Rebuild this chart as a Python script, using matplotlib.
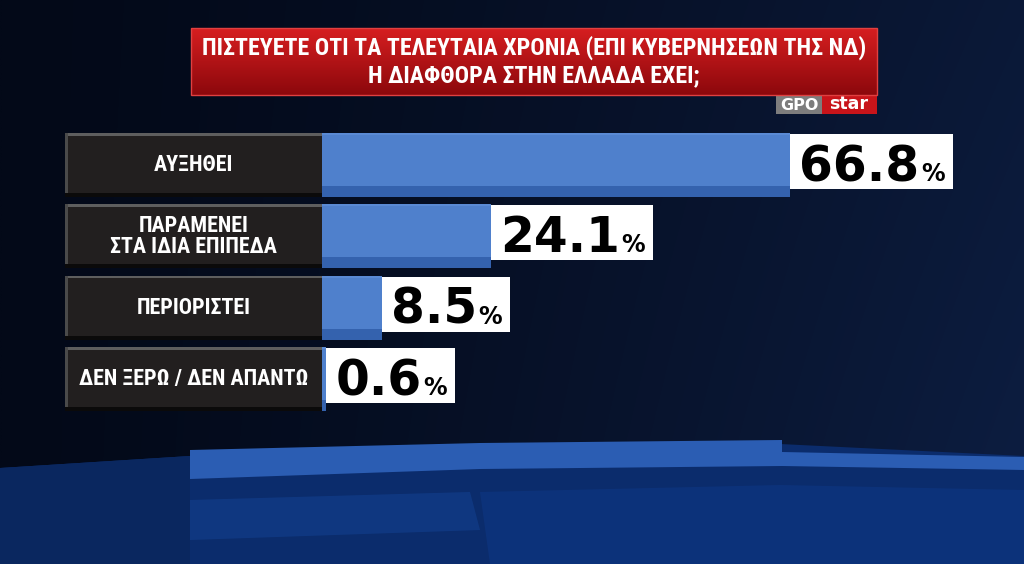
import matplotlib
matplotlib.use('Agg')
import matplotlib.pyplot as plt
import numpy as np
from matplotlib.patches import Rectangle, Polygon
from matplotlib import font_manager as fm

# ---- data ----
categories = ['ΑΥΞΗΘΕΙ', 'ΠΑΡΑΜΕΝΕΙ\nΣΤΑ ΙΔΙΑ ΕΠΙΠΕΔΑ', 'ΠΕΡΙΟΡΙΣΤΕΙ', 'ΔΕΝ ΞΕΡΩ / ΔΕΝ ΑΠΑΝΤΩ']
values = [66.8, 24.1, 8.5, 0.6]
value_labels = ['66.8', '24.1', '8.5', '0.6']
title_lines = ['ΠΙΣΤΕΥΕΤΕ ΟΤΙ ΤΑ ΤΕΛΕΥΤΑΙΑ ΧΡΟΝΙΑ (ΕΠΙ ΚΥΒΕΡΝΗΣΕΩΝ ΤΗΣ ΝΔ)',
               'Η ΔΙΑΦΘΟΡΑ ΣΤΗΝ ΕΛΛΑΔΑ ΕΧΕΙ;']
logo_left, logo_right = 'GPO', 'star'

available = {f.name for f in fm.fontManager.ttflist}
cond = next((f for f in ['Liberation Sans Narrow', 'DejaVu Sans Condensed',
                         'Roboto Condensed', 'Open Sans Condensed']
             if f in available), 'DejaVu Sans')
COND = [cond, 'DejaVu Sans']

W, H = 1024, 564
fig = plt.figure(figsize=(10.24, 5.64), dpi=100)
bg = fig.add_axes([0, 0, 1, 1])
bg.set_xlim(0, W)
bg.set_ylim(H, 0)
bg.axis('off')

# ---- background gradient ----
gx = np.linspace(0, 1, 300)
gy = np.linspace(0, 1, 160)
c_left = np.array([3, 9, 24]) / 255
c_right = np.array([13, 30, 66]) / 255
t = (gx[None, :] ** 1.3) * (0.75 + 0.25 * gy[:, None])
img = c_left[None, None, :] + (c_right - c_left)[None, None, :] * t[:, :, None]
bg.imshow(img, extent=(0, W, H, 0), aspect='auto', zorder=0, interpolation='bilinear')

# ---- lower decorative shapes ----
bg.add_patch(Polygon([(0, 468), (190, 456), (500, 448), (780, 444), (1024, 456),
                      (1024, 564), (0, 564)], closed=True, color='#0b2c6c', zorder=1, lw=0))
bg.add_patch(Polygon([(0, 468), (190, 456), (190, 564), (0, 564)], closed=True,
                     color='#0a275f', zorder=1, lw=0))
bg.add_patch(Polygon([(190, 450), (480, 443), (782, 440), (782, 452), (1024, 457),
                      (1024, 470), (782, 466), (480, 469), (190, 479)], closed=True,
                     color='#2b5db3', zorder=2, lw=0))
bg.add_patch(Polygon([(190, 500), (470, 492), (480, 530), (190, 540)], closed=True,
                     color='#12408f', zorder=1.5, lw=0, alpha=0.6))
bg.add_patch(Polygon([(480, 492), (780, 485), (1024, 490), (1024, 564), (490, 564)],
                     closed=True, color='#0d3580', zorder=1.5, lw=0, alpha=0.7))

# ---- title box ----
rg = np.linspace(0, 1, 60)
red_top = np.array([214, 30, 32]) / 255
red_bot = np.array([140, 8, 12]) / 255
rimg = red_top[None, :] + (red_bot - red_top)[None, :] * rg[:, None]
bg.imshow(rimg[:, None, :], extent=(191, 877, 95, 28), aspect='auto', zorder=3)
bg.add_patch(Rectangle((191, 28), 686, 67, fill=False, ec='#e04040', lw=1, zorder=3.1))
bg.text(534, 48, title_lines[0], ha='center', va='center', color='white',
        fontsize=17.2, fontweight='bold', family=COND, zorder=4)
bg.text(534, 76, title_lines[1], ha='center', va='center', color='white',
        fontsize=17.2, fontweight='bold', family=COND, zorder=4)

# ---- logo ----
bg.add_patch(Rectangle((776, 95), 46, 19, color='#7d7d7d', zorder=3, lw=0))
bg.add_patch(Rectangle((822, 95), 55, 19, color='#c8141a', zorder=3, lw=0))
bg.text(799, 105, logo_left, ha='center', va='center', color='white',
        fontsize=11.5, fontweight='bold', family='DejaVu Sans', zorder=4)
bg.text(849, 104, logo_right, ha='center', va='center', color='white',
        fontsize=12.5, fontweight='bold', family='DejaVu Sans', zorder=4)

# ---- bars axes ----
n = len(values)
pitch = (411 - 133 - 64) / (n - 1)
bar_h = 64 / pitch
ax = fig.add_axes([322 / W, 1 - 411 / H, (970 - 322) / W, (411 - 133) / H])
ax.set_xlim(0, 92.5)
ax.set_ylim(n - 1 + bar_h / 2, -bar_h / 2)
ax.axis('off')
ax.patch.set_alpha(0)
ypos = np.arange(n)
ax.barh(ypos, values, height=bar_h, color='#4f80cc', zorder=2)
strip = 11 / pitch
ax.barh(ypos + bar_h / 2 - strip / 2, values, height=strip, color='#3462ae', zorder=2.1)
ax.barh(ypos - bar_h / 2 + 1 / pitch, values, height=2 / pitch, color='#5a8ad4', zorder=2.1)

# ---- category label boxes ----
for i, cat in enumerate(categories):
    top = 133 + i * pitch
    bg.add_patch(Rectangle((65, top), 257, 64, color='#221f1f', zorder=3, lw=0))
    bg.add_patch(Rectangle((65, top), 257, 2.5, color='#5e5e5e', zorder=3.1, lw=0))
    bg.add_patch(Rectangle((65, top), 2.5, 64, color='#4a4a4a', zorder=3.1, lw=0))
    bg.add_patch(Rectangle((65, top + 60), 257, 4, color='#0b0a0a', zorder=3.1, lw=0))
    bg.text(193.5, top + 32, cat, ha='center', va='center', color='white',
            fontsize=15.8, fontweight='bold', family=COND, linespacing=0.92, zorder=4)

# ---- value boxes ----
fig.canvas.draw()
renderer = fig.canvas.get_renderer()
for i, (v, lab) in enumerate(zip(values, value_labels)):
    bx = ax.transData.transform((v, i))[0]
    top = 133 + i * pitch + 1
    base = top + 47
    tn = bg.text(bx + 9, base, lab, ha='left', va='baseline', color='black',
                 fontsize=35, fontweight='bold', family='DejaVu Sans', zorder=6)
    wn = tn.get_window_extent(renderer).width
    tp = bg.text(bx + 9 + wn + 2, base, '%', ha='left', va='baseline', color='black',
                 fontsize=17, fontweight='bold', family='DejaVu Sans', zorder=6)
    wp = tp.get_window_extent(renderer).width
    bg.add_patch(Rectangle((bx, top), 9 + wn + 2 + wp + 8, 55, color='white',
                           zorder=5, lw=0))

fig.savefig('out.png', dpi=100)
